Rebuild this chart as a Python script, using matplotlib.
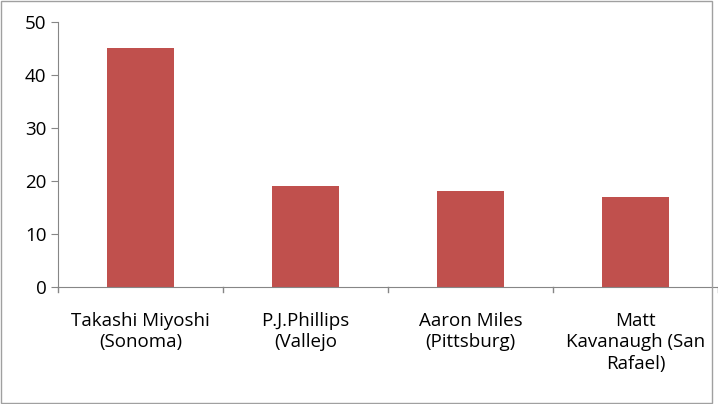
import matplotlib.pyplot as plt
from matplotlib.patches import Rectangle

categories = ['Takashi Miyoshi\n(Sonoma)', 'P.J.Phillips\n(Vallejo', 'Aaron Miles\n(Pittsburg)',
              'Matt\nKavanaugh (San\nRafael)']
values = [45, 19, 18, 17]

plt.rcParams['font.family'] = ['Open Sans', 'DejaVu Sans']
fig = plt.figure(figsize=(7.18, 4.04), dpi=100)
ax = fig.add_axes([0.081, 0.29, 0.919, 0.656])
fig.patches.append(Rectangle((0.002, 0.003), 0.99, 0.994, transform=fig.transFigure,
                             fill=False, edgecolor='#a0a0a0', lw=1))

x = range(len(values))
ax.bar(x, values, width=0.41, color='#c0504d')
ax.set_xlim(-0.5, 3.5)
ax.set_ylim(0, 50)
ax.set_yticks(range(0, 51, 10))
ax.set_xticks(list(x))
ax.set_xticklabels(categories, fontsize=13.5, linespacing=1.25)
ax.tick_params(axis='x', length=0, pad=18)
ax.tick_params(axis='y', labelsize=13.5, length=5, color='#868686')
for b in [-0.5, 0.5, 1.5, 2.5, 3.5]:
    ax.plot([b, b], [0, -0.02], transform=ax.get_xaxis_transform(), color='#868686',
            lw=1, clip_on=False)
for s in ['top', 'right']:
    ax.spines[s].set_visible(False)
for s in ['left', 'bottom']:
    ax.spines[s].set_color('#868686')

fig.savefig('out.png', dpi=100)
